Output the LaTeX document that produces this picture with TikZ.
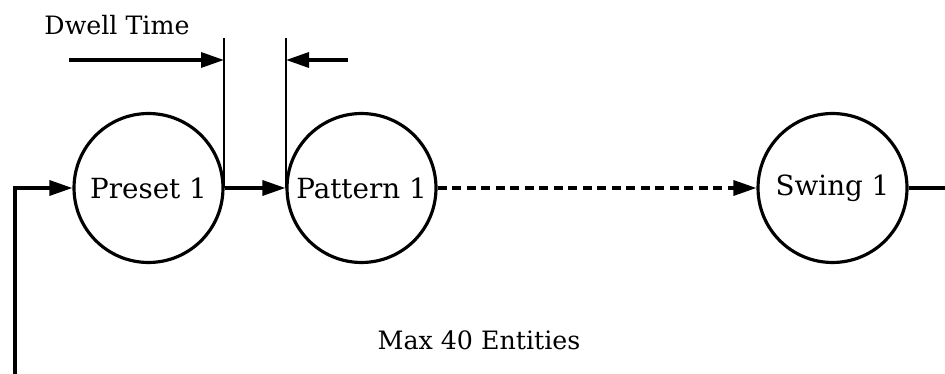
\documentclass[tikz,border=0pt]{standalone}
\usepackage{fontspec}
\setmainfont{DejaVu Serif}
\usetikzlibrary{arrows.meta}
\begin{document}
\begin{tikzpicture}[x=0.02cm, y=-0.02cm, auto, line width=1.9pt,
  >={Triangle[length=0.46cm,width=0.3cm]},
  main node/.style={circle,draw,line width=1.8pt,minimum size=2.98cm,inner sep=0pt},
  guide/.style={line width=0.6pt},
  label text/.style={font=\fontsize{14.4}{17}\selectfont}]
\useasboundingbox (0,0) rectangle (945,374);
\begin{scope}[every node/.style={font=\fontsize{15.8}{19}\selectfont}]
\node [main node](p1) at (148.5,188) {Preset 1};
\node [main node](pat) at (361.5,188) {Pattern 1};
\node [main node](sw) at (832.5,188) {Swing 1};
\end{scope}
\node [label text](dwell) at (117,25) {Dwell Time};
\node [label text](max) at (479,340) {Max 40 Entities};
\coordinate (loopin) at (15,374);
\coordinate (loopout) at (945,188);
\coordinate (g1) at (224,38);
\coordinate (g2) at (286,38);
\coordinate (a1) at (69,60);
\coordinate (a2) at (348,60);
\path [guide] (g1) edge (g1 |- p1.east)
    (g2) edge (g2 |- pat.west);
\path [->]
	(a1) edge (g1 |- a1)
    (a2) edge (g2 |- a2)
    (p1) edge (pat)
    (pat) edge [dash pattern=on 0.18cm off 0.11cm] (sw);
\draw [->] (loopin) |- (p1);
\draw (sw) -- (loopout);
\end{tikzpicture}
\end{document}
